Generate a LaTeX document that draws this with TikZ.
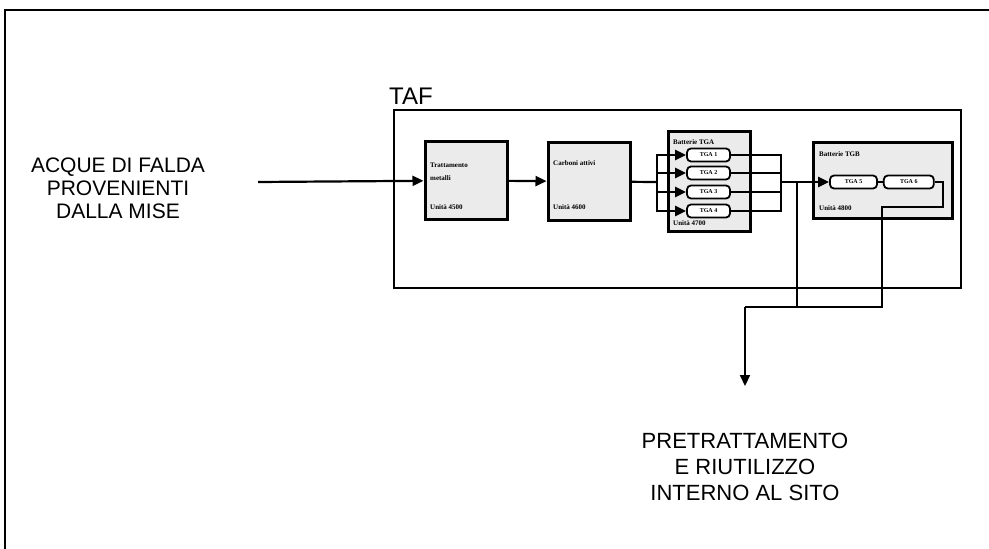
\documentclass[tikz,border=0pt]{standalone}
\usepackage{fontspec}
\setmainfont{Liberation Sans}
\newfontfamily\unitfont{Liberation Serif}
\usetikzlibrary{positioning, arrows.meta}
\definecolor{ink}    {HTML}{000000}
\definecolor{stipple}{HTML}{EBEBEB}

\begin{document}
\begin{tikzpicture}[x=1pt, y=-1pt,
      lbl/.style   ={font=\fontsize{21}{23}\selectfont, align=center, inner sep=0pt},
      unit/.style  ={draw=ink, line width=3pt, fill=stipple, inner sep=0pt,
                     minimum width=82pt, minimum height=78pt},
      filter/.style={draw=ink, line width=1.8pt, rounded corners=4pt, fill=white,
                     minimum width=43pt, minimum height=13pt, inner sep=0pt,
                     font=\unitfont\fontsize{6}{6}\selectfont\bfseries},
      tiny/.style  ={font=\unitfont\fontsize{7}{8}\selectfont\bfseries,
                     inner sep=0pt, anchor=west},
      pipe/.style  ={draw=ink, line width=2.2pt},
      arr/.style   ={pipe, -{Triangle[length=11pt, width=10pt]}}]

    \useasboundingbox (0,0) rectangle (989,549);
    \draw[line width=1.4pt] (5,549) -- (5,10) -- (989,10);

    % impianto TAF
    \node[draw=ink, line width=2.2pt, minimum width=567pt, minimum height=178pt] (taf) at (677.5,199) {};
    \node[font=\fontsize{24}{24}\selectfont, inner sep=0pt] (taflbl) at (411,96) {TAF};

    \node[unit] (metalli) at (466,180.5) {};
    \node[tiny] (metallit) at (430,165) {Trattamento};
    \node[tiny] (metallim) at (430,178) {metalli};
    \node[tiny] (metalliu) at (430,207) {Unità 4500};

    \node[unit] (carboni) at (589,181.5) {};
    \node[tiny] (carbonit) at (553,163) {Carboni attivi};
    \node[tiny] (carboniu) at (553,207) {Unità 4600};

    \node[unit, minimum height=100pt] (battA) at (709.5,181) {};
    \node[tiny] (battAt) at (673,142) {Batterie TGA};
    \node[tiny] (battAu) at (673,223) {Unità 4700};
    \foreach \i/\y in {1/155, 2/173, 3/192, 4/211}
      \node[filter] (tga\i) at (708.5,\y) {TGA \i};

    \node[unit, minimum width=139pt, minimum height=76pt] (battB) at (882.5,180.5) {};
    \node[tiny] (battBt) at (819,154) {Batterie TGB};
    \node[tiny] (battBu) at (819,208) {Unità 4800};
    \node[filter, minimum width=47pt] (tga5) at (853.5,182) {TGA 5};
    \node[filter, minimum width=50pt, right=5pt of tga5] (tga6) {TGA 6};

    % testi esterni
    \node[lbl] (falda) at (118,188) {ACQUE DI FALDA\\PROVENIENTI\\DALLA MISE};
    \node[lbl, font=\fontsize{22}{26}\selectfont] (riuso) at (745,467)
         {PRETRATTAMENTO\\E RIUTILIZZO\\INTERNO AL SITO};

    \coordinate (inlet)   at (258,182);
    \coordinate (split)   at (657,182);
    \coordinate (collect) at (781,182);
    \coordinate (tee)     at (797,182);
    \coordinate (rtn)     at (882,207);
    \coordinate (drain)   at (882,307);
    \coordinate (outl)    at (745,307);
    \coordinate (tip)     at (745,386);

    \draw[arr] (inlet) -- (metalli);
    \draw[arr] (metalli) -- (carboni);
    \draw[pipe] (carboni) -- (split);
    \foreach \i in {1,...,4} {
      \draw[arr]  (split) |- (tga\i.west);
      \draw[pipe] (tga\i.east) -| (collect);
    }
    \draw[arr]  (collect) -- (tga5.west);
    \draw[pipe] (tga5) -- (tga6);
    \draw[pipe] (tga6.east) -- ++(8,0) |- (rtn) -- (drain) -- (outl);
    \draw[pipe] (tee) -- (tee |- drain);
    \draw[arr]  (outl) -- (tip);
\end{tikzpicture}
\end{document}
